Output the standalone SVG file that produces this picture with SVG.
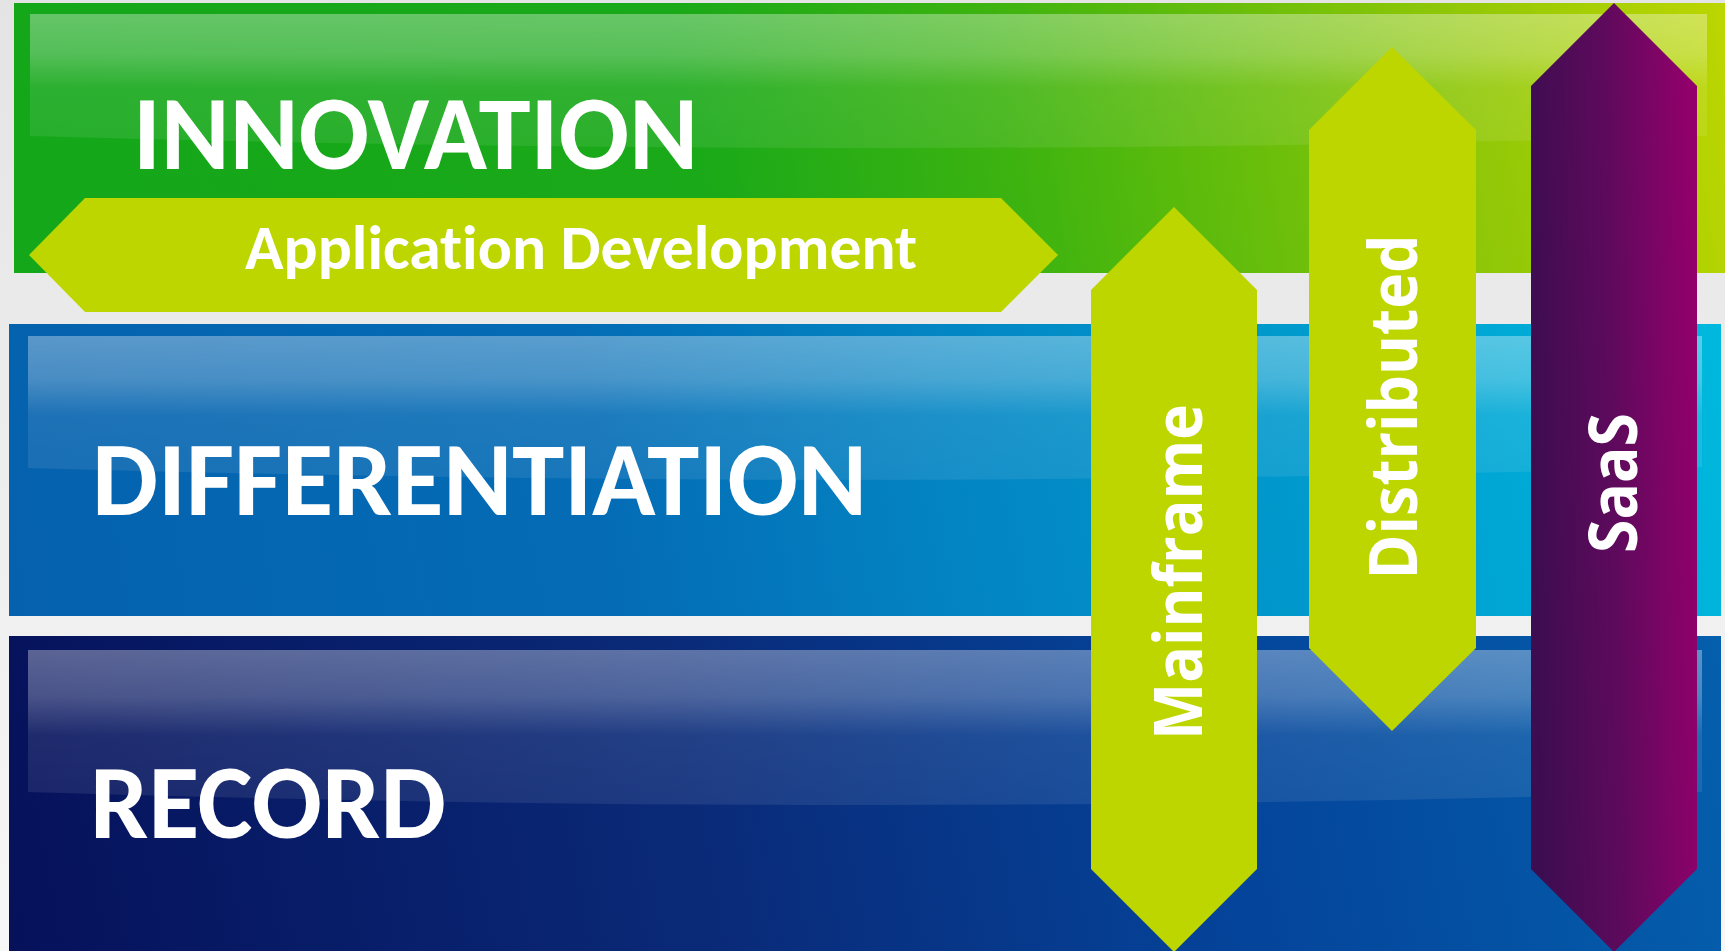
<svg xmlns="http://www.w3.org/2000/svg" width="1725" height="951" viewBox="0 0 1725 951">
  <defs>
    <linearGradient id="bg" x1="0" y1="0" x2="0" y2="1">
      <stop offset="0" stop-color="#e4e4e4"/>
      <stop offset="1" stop-color="#f7f7f7"/>
    </linearGradient>
    <linearGradient id="gGreen" gradientUnits="userSpaceOnUse" x1="14" y1="273" x2="1725" y2="3">
      <stop offset="0" stop-color="#14a71a"/>
      <stop offset="0.4" stop-color="#1aa919"/>
      <stop offset="0.58" stop-color="#3db310"/>
      <stop offset="0.64" stop-color="#50b80d"/>
      <stop offset="0.84" stop-color="#8fc708"/>
      <stop offset="1" stop-color="#bcd600"/>
    </linearGradient>
    <linearGradient id="gBlue" gradientUnits="userSpaceOnUse" x1="9" y1="616" x2="1721" y2="324">
      <stop offset="0" stop-color="#0561ad"/>
      <stop offset="0.35" stop-color="#046cb5"/>
      <stop offset="0.55" stop-color="#0385c3"/>
      <stop offset="0.75" stop-color="#009acd"/>
      <stop offset="1" stop-color="#00b8de"/>
    </linearGradient>
    <linearGradient id="gNavy" gradientUnits="userSpaceOnUse" x1="9" y1="951" x2="1721" y2="636">
      <stop offset="0" stop-color="#06115a"/>
      <stop offset="0.4" stop-color="#0a2a78"/>
      <stop offset="0.7" stop-color="#04449a"/>
      <stop offset="1" stop-color="#045fac"/>
    </linearGradient>
    <linearGradient id="gGloss" x1="0" y1="0" x2="0" y2="1">
      <stop offset="0" stop-color="#ffffff" stop-opacity="0.34"/>
      <stop offset="0.3" stop-color="#ffffff" stop-opacity="0.27"/>
      <stop offset="0.55" stop-color="#ffffff" stop-opacity="0.1"/>
      <stop offset="1" stop-color="#ffffff" stop-opacity="0.08"/>
    </linearGradient>
    <linearGradient id="gSaas" x1="0" y1="0.55" x2="1" y2="0.42">
      <stop offset="0" stop-color="#3c0d50"/>
      <stop offset="0.5" stop-color="#5e0a5c"/>
      <stop offset="1" stop-color="#92006b"/>
    </linearGradient>
  </defs>
  <style>
    .lime { fill: #bed600; }
    .big { font-family: "Carlito", "Liberation Sans", Arial, sans-serif; font-weight: bold; font-size: 105px; fill: #ffffff; font-variant-ligatures: none; }
    .sub { font-family: "Carlito", "Liberation Sans", Arial, sans-serif; font-weight: bold; font-size: 63px; fill: #ffffff; font-variant-ligatures: none; }
    .vert { font-family: "Open Sans", "DejaVu Sans", sans-serif; font-weight: bold; font-size: 66px; fill: #ffffff; text-anchor: middle; font-variant-ligatures: none; }
    .gloss { fill: url(#gGloss); }
  </style>

  <rect x="0" y="0" width="1725" height="951" fill="url(#bg)"/>

  <g id="innovation">
    <rect x="14" y="3" width="1711" height="270" fill="url(#gGreen)"/>
    <path class="gloss" d="M30,14 H1707 V136 Q868,160 30,136 Z"/>
    <text class="big" x="133" y="169" textLength="565" lengthAdjust="spacingAndGlyphs">INNOVATION</text>
  </g>

  <g id="differentiation">
    <rect x="9" y="324" width="1712" height="292" fill="url(#gBlue)"/>
    <path class="gloss" d="M28,336 H1702 V467 Q865,492 28,468 Z"/>
    <text class="big" x="92" y="515" textLength="775" lengthAdjust="spacingAndGlyphs">DIFFERENTIATION</text>
  </g>

  <g id="record">
    <rect x="9" y="636" width="1712" height="315" fill="url(#gNavy)"/>
    <path class="gloss" d="M28,650 H1702 V792 Q865,818 28,792 Z"/>
    <text class="big" x="90" y="838" textLength="356" lengthAdjust="spacingAndGlyphs">RECORD</text>
  </g>

  <g id="application-development">
    <polygon class="lime" points="29,255 85,198 1001,198 1058,255 1001,312 85,312"/>
    <text class="sub" x="245" y="269" textLength="672" lengthAdjust="spacingAndGlyphs">Application Development</text>
  </g>

  <g id="mainframe">
    <polygon class="lime" points="1174,207 1257,290 1257,869 1174,952 1091,869 1091,290"/>
    <text class="vert" transform="translate(1202,572) rotate(-90)" x="0" y="0" textLength="336" lengthAdjust="spacingAndGlyphs">Mainframe</text>
  </g>

  <g id="distributed">
    <polygon class="lime" points="1392,47 1476,130 1476,648 1392,731 1309,648 1309,130"/>
    <text class="vert" transform="translate(1417,407) rotate(-90)" x="0" y="0" textLength="345" lengthAdjust="spacingAndGlyphs">Distributed</text>
  </g>

  <g id="saas">
    <polygon points="1614,3 1697,86 1697,869 1614,952 1531,869 1531,86" fill="url(#gSaas)"/>
    <text class="vert" transform="translate(1637,483) rotate(-90)" x="0" y="0" textLength="140" lengthAdjust="spacingAndGlyphs">SaaS</text>
  </g>

  <g id="connectors"></g>
</svg>
